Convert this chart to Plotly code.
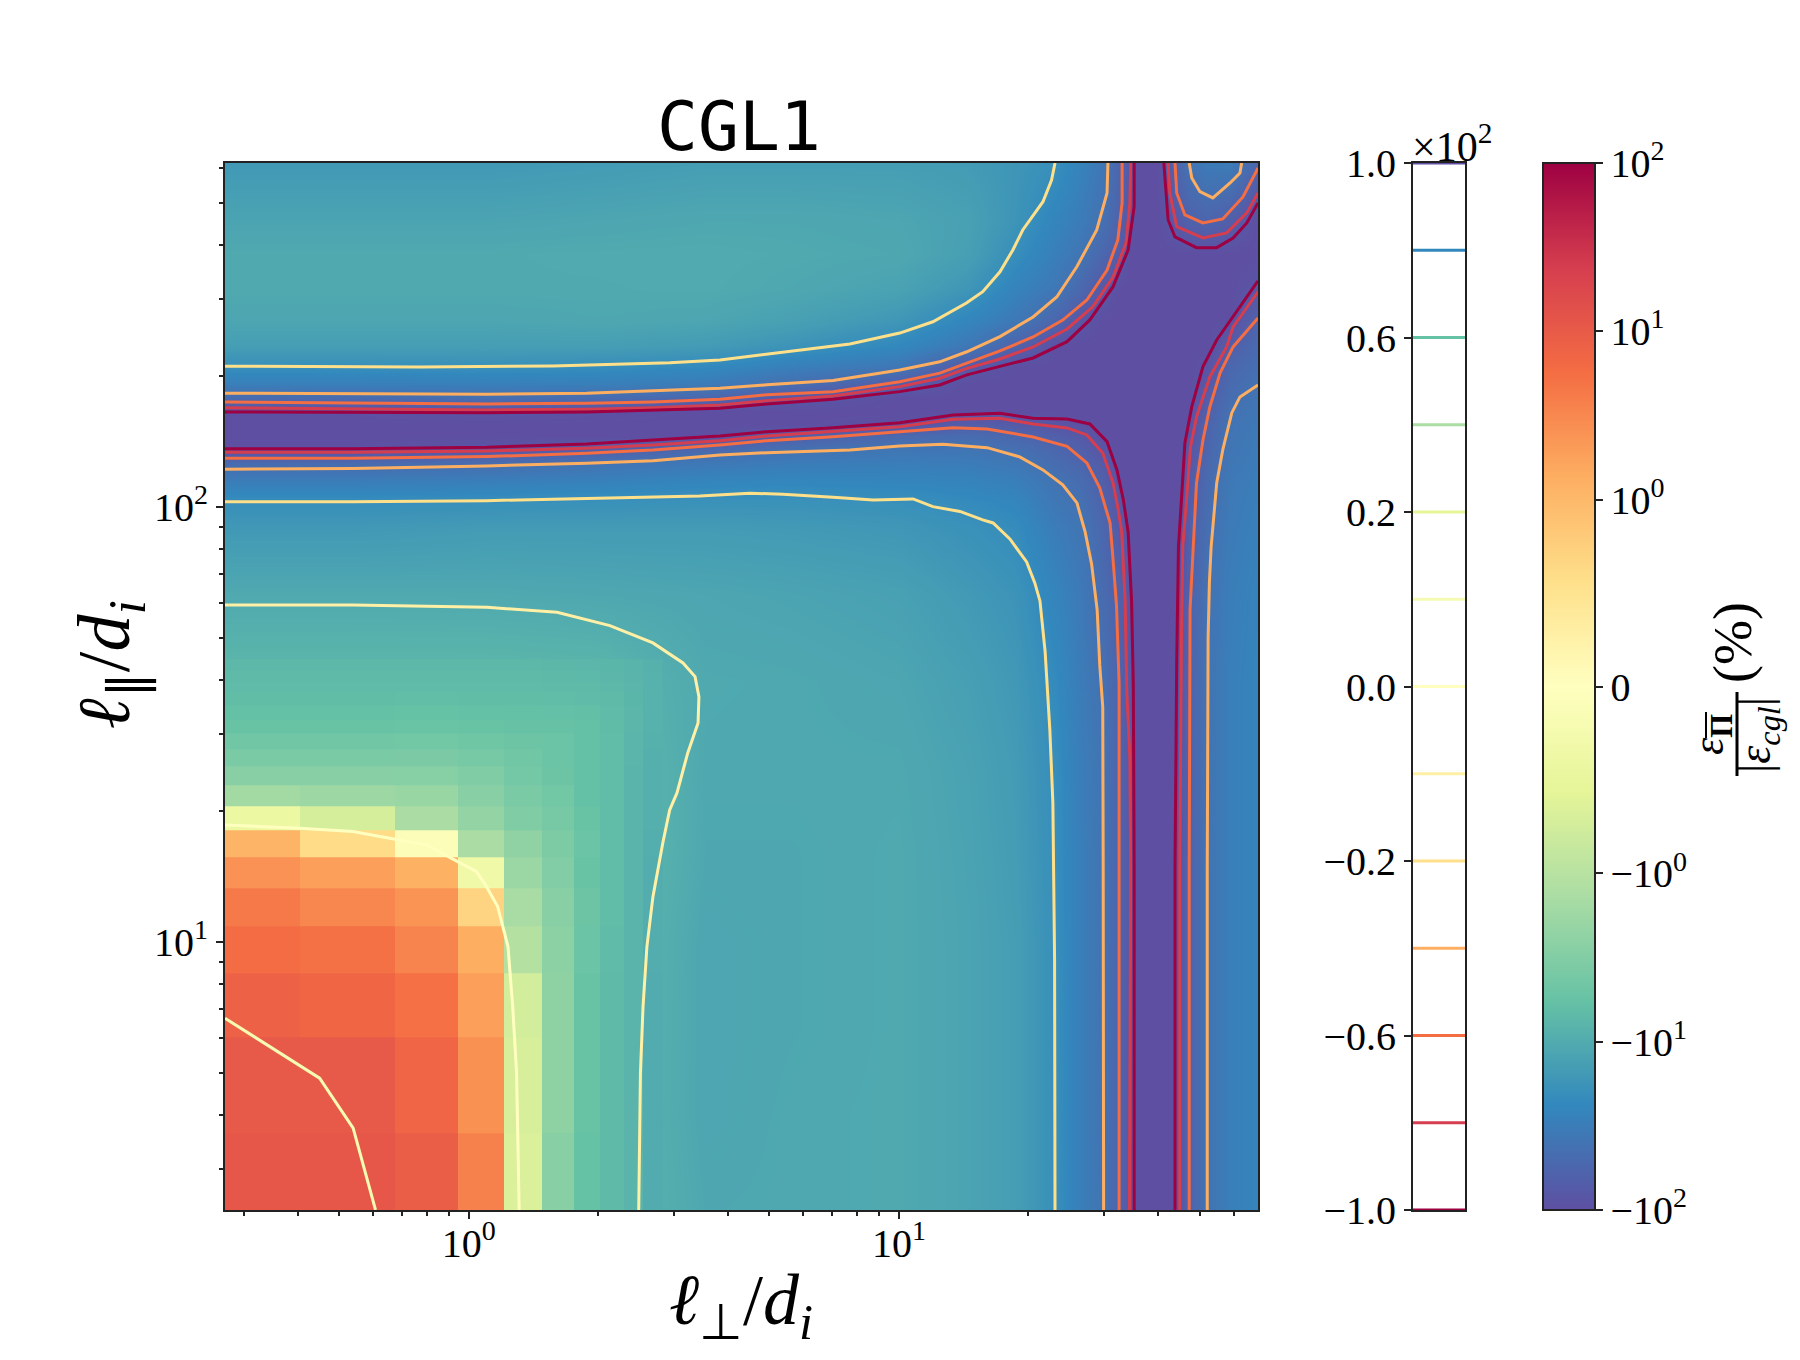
import plotly.graph_objects as go
from math import log10

W, H = 1800, 1360

# heatmap nodes, smooth part of the field (percent)
l_perp_nodes = [0.271, 0.537, 1.1, 2.0, 3.55, 5.62, 10, 14.5, 18.6, 23.1, 26.3, 29.9, 32.5, 34.4, 35.2, 39.8, 43.9, 45, 47.3, 52.1, 58.9, 68.4]
l_par_nodes = [2.41, 3.98, 6.31, 10, 15.8, 25.1, 39.8, 63.1, 89.1, 102, 115, 126, 135, 145, 155, 166, 178, 191, 209, 234, 269, 316, 380, 457, 617]
field_smooth = [
    [11, 11, 2.6, -7, -11, -10.8, -10.6, -12, -14, -20, -30, -40, -60, -80, -100, -100, -100, -80, -60, -40, -30, -26],
    [10.5, 10.5, 2.6, -7, -11.5, -10.8, -10.6, -12, -14, -20, -30, -40, -60, -80, -100, -100, -100, -80, -60, -40, -30, -26],
    [8, 7, 1.5, -6.8, -11.5, -11, -10.6, -12, -14, -20, -30, -40, -60, -80, -100, -100, -100, -80, -60, -40, -30, -26],
    [4, 4, 0.5, -6.6, -11.5, -11, -10.6, -12, -14, -20, -30, -40, -60, -80, -100, -100, -100, -80, -60, -40, -30, -26],
    [0, -0.3, -1.5, -6.2, -11, -11, -10.6, -12.2, -14.5, -20.5, -30, -40, -60, -80, -100, -100, -100, -80, -60, -40, -30, -26],
    [-4.5, -4.5, -4, -6.3, -10.8, -10.8, -10.8, -12.5, -15, -21, -31, -40, -60, -80, -100, -100, -100, -82, -60, -40, -30, -26],
    [-7.2, -7.2, -7.2, -7.5, -10.6, -10.8, -11.5, -13.5, -16, -22.5, -32, -43, -60, -85, -100, -100, -100, -87, -60, -40, -30, -26],
    [-10.5, -10.5, -10.6, -11, -11.5, -12, -13, -15.5, -18, -26, -34, -49, -63, -95, -100, -100, -100, -93, -62, -41, -31, -27],
    [-16, -16, -15, -15, -15, -15.5, -16.5, -19, -21.5, -32, -38, -55, -77, -100, -100, -100, -100, -99, -68, -45, -33, -29],
    [-20, -20, -19.5, -19, -18.5, -18.5, -19.5, -22, -25, -36, -42, -60, -86, -100, -100, -100, -100, -100, -72, -48, -34, -30],
    [-32, -32, -31, -29, -26, -25, -26, -27, -30, -40, -48, -67, -100, -100, -100, -100, -100, -100, -76, -50, -35, -31],
    [-50, -50, -47, -40, -35, -32, -31, -32, -36, -48, -56, -76, -100, -100, -100, -100, -100, -100, -80, -53, -37, -32],
    [-95, -95, -85, -68, -52, -42, -37, -38, -43, -54, -65, -85, -100, -100, -100, -100, -100, -100, -85, -56, -38, -33],
    [-100, -100, -100, -100, -100, -68, -52, -48, -55, -67, -76, -100, -100, -100, -100, -100, -100, -100, -92, -58, -39, -34],
    [-100, -100, -100, -100, -100, -100, -95, -70, -76, -85, -95, -100, -100, -100, -100, -100, -100, -100, -98, -60, -40, -35],
    [-95, -95, -85, -95, -100, -100, -100, -100, -100, -100, -100, -100, -100, -100, -100, -100, -100, -100, -100, -65, -42, -37],
    [-50, -50, -45, -48, -55, -80, -100, -100, -100, -100, -100, -100, -100, -100, -100, -100, -100, -100, -100, -70, -46, -38.5],
    [-30, -30, -30, -30, -33, -45, -70, -100, -100, -100, -100, -100, -100, -100, -100, -100, -100, -100, -100, -78, -50, -40],
    [-20.5, -20.5, -20, -21, -23, -30, -37, -78, -100, -100, -100, -100, -100, -100, -100, -100, -100, -100, -100, -90, -55, -44],
    [-14, -14, -14, -14, -15, -18, -24, -36, -60, -100, -100, -100, -100, -100, -100, -100, -100, -100, -100, -100, -68, -50],
    [-11.5, -11.5, -11.5, -11, -11.5, -13, -16.5, -25, -35, -55, -83, -100, -100, -100, -100, -100, -100, -100, -100, -100, -100, -59],
    [-10.5, -10.5, -10.5, -10.5, -10.3, -11, -12.5, -17, -27, -36, -53, -80, -100, -100, -100, -100, -100, -100, -100, -100, -100, -85],
    [-10.5, -10.5, -10.5, -10.3, -10.2, -10.5, -11, -13.5, -20.5, -30, -38, -55, -72, -100, -100, -100, -100, -100, -100, -100, -100, -100],
    [-12, -12, -12, -11.5, -11, -11, -11.5, -13, -17.5, -26, -32, -43, -60, -90, -100, -100, -78, -72, -62, -57, -68, -100],
    [-16, -16, -16, -15, -14, -14, -14, -15, -17, -20, -27, -37, -57, -78, -100, -100, -60, -50, -40, -33, -32, -57],
]

# coarse grid cells visible in the lower left corner
l_perp_cells = [0.271, 0.404, 0.673, 0.943, 1.21, 1.48, 1.755, 2.02, 2.29, 2.54, 2.83]
l_par_cells = [2.41, 3.62, 6.03, 8.44, 10.85, 13.26, 15.67, 18.08, 20.49, 22.9, 25.31, 27.72, 30.13, 32.54, 34.95, 37.36, 39.77, 42.18, 44.59]
field_cells = [
    [11, 11, 9, 3.7, -0.67, -2.8, -5.7, -7, -8, -10],
    [10.5, 10.5, 7.2, 2.6, -0.7, -2.5, -5.5, -7, -8, -10],
    [8, 7, 5.2, 1.9, -0.75, -2.5, -5.5, -7, -8, -10],
    [5.8, 5.3, 3.4, 1.35, -1.1, -2.6, -5.2, -6.8, -8, -9.5],
    [4.3, 3.2, 2.4, 0.7, -1.45, -2.8, -5, -6.5, -8, -9.5],
    [2.5, 1.9, 1.25, -0.35, -1.9, -3.2, -5.5, -6.5, -8, -9.5],
    [1.15, 0.6, -0.1, -1.4, -2.4, -3.6, -5.2, -6.5, -8, -9.3],
    [-0.4, -0.72, -1.4, -2.2, -3.4, -4, -5.5, -6.5, -8, -9],
    [-1.6, -1.8, -2, -2.8, -3.8, -4.4, -5.8, -6.5, -8, -9],
    [-2.8, -2.8, -2.9, -3.3, -4.2, -5, -5.8, -6.5, -8, -9],
    [-3.8, -3.8, -3.7, -4, -4.6, -5.2, -5.8, -6.5, -7.8, -9],
    [-4.5, -4.5, -4.4, -4.7, -5, -5.2, -5.8, -6.5, -7.8, -8.8],
    [-5.5, -5.5, -5.4, -5.5, -5.6, -5.6, -5.9, -6.6, -7.6, -8.6],
    [-5.8, -5.8, -5.7, -5.8, -5.9, -6, -6.2, -6.8, -7.6, -8.6],
    [-6.4, -6.4, -6.3, -6.4, -6.4, -6.5, -6.7, -7, -7.7, -8.6],
    [-6.8, -6.8, -6.7, -6.8, -6.8, -6.9, -7, -7.3, -7.8, -8.6],
    [-7, -7, -7, -7, -7, -7.1, -7.2, -7.5, -8, -8.7],
    [-7.3, -7.3, -7.3, -7.3, -7.3, -7.4, -7.5, -7.7, -8.1, -8.8],
]

m20_top_x = [-0.567, -0.114, 0.195, 0.351, 0.467, 0.584, 0.770, 0.886, 1.002, 1.079, 1.157, 1.195, 1.235, 1.265, 1.288, 1.335, 1.355, 1.363]
m20_top_y = [2.3228, 2.321, 2.3235, 2.327, 2.331, 2.337, 2.360, 2.374, 2.399, 2.425, 2.468, 2.494, 2.540, 2.590, 2.636, 2.701, 2.751, 2.790]
m40_top_x = [-0.567, 0.042, 0.274, 0.428, 0.584, 0.693, 0.847, 1.002, 1.095, 1.158, 1.235, 1.312, 1.367, 1.414, 1.460, 1.484, 1.486]
m40_top_y = [2.2607, 2.2584, 2.2607, 2.266, 2.272, 2.280, 2.290, 2.314, 2.333, 2.356, 2.391, 2.436, 2.482, 2.552, 2.636, 2.721, 2.790]
m60_top_x = [-0.567, 0.042, 0.274, 0.428, 0.584, 0.693, 0.847, 1.002, 1.095, 1.158, 1.235, 1.312, 1.381, 1.437, 1.484, 1.509, 1.519, 1.519]
m60_top_y = [2.2407, 2.236, 2.2377, 2.2407, 2.247, 2.257, 2.264, 2.287, 2.307, 2.330, 2.358, 2.390, 2.429, 2.475, 2.544, 2.613, 2.698, 2.790]
m80_top_x = [-0.567, 0.042, 0.274, 0.428, 0.584, 0.693, 0.847, 1.002, 1.095, 1.158, 1.235, 1.312, 1.391, 1.451, 1.498, 1.528, 1.537, 1.539]
m80_top_y = [2.2276, 2.2223, 2.224, 2.2276, 2.2338, 2.2437, 2.2545, 2.2759, 2.2952, 2.318, 2.3395, 2.367, 2.4085, 2.4598, 2.528, 2.606, 2.698, 2.790]
m100_top_x = [-0.567, 0.042, 0.274, 0.428, 0.584, 0.693, 0.847, 1.002, 1.095, 1.158, 1.235, 1.312, 1.391, 1.444, 1.498, 1.533, 1.547, 1.547]
m100_top_y = [2.2177, 2.216, 2.2177, 2.2216, 2.2262, 2.2361, 2.2469, 2.2644, 2.2798, 2.3028, 2.3218, 2.3418, 2.3793, 2.4292, 2.5057, 2.5901, 2.6897, 2.790]

m100_mid_x = [-0.567, -0.27, 0.042, 0.274, 0.428, 0.584, 0.693, 0.847, 1.002, 1.126, 1.235, 1.312, 1.391, 1.444, 1.484, 1.507, 1.522, 1.533, 1.541, 1.545, 1.547, 1.547]
m100_mid_y = [2.1333, 2.1333, 2.1366, 2.1441, 2.1533, 2.1625, 2.1724, 2.1816, 2.1931, 2.2108, 2.2147, 2.2032, 2.2016, 2.1901, 2.1494, 2.0844, 2.0154, 1.9418, 1.7832, 1.5924, 1.1694, 0.383]
m80_mid_x = [-0.567, -0.27, 0.042, 0.274, 0.428, 0.584, 0.693, 0.847, 1.002, 1.126, 1.235, 1.312, 1.391, 1.437, 1.474, 1.498, 1.510, 1.518, 1.526, 1.530, 1.537, 1.539, 1.536]
m80_mid_y = [2.1251, 2.1251, 2.128, 2.1343, 2.1418, 2.1517, 2.1625, 2.1724, 2.1839, 2.2009, 2.2032, 2.1901, 2.1809, 2.1648, 2.1234, 2.0545, 1.9924, 1.9418, 1.7832, 1.5717, 1.4246, 1.1694, 0.383]
m60_mid_x = [-0.567, -0.27, 0.042, 0.274, 0.428, 0.584, 0.693, 0.847, 1.002, 1.126, 1.205, 1.312, 1.391, 1.437, 1.467, 1.491, 1.498, 1.506, 1.512, 1.512, 1.512]
m60_mid_y = [2.1113, 2.1113, 2.115, 2.1228, 2.1303, 2.1418, 2.1517, 2.1609, 2.1724, 2.1816, 2.1786, 2.1602, 2.1388, 2.1005, 2.0430, 1.9625, 1.8775, 1.7717, 1.5924, 1.1694, 0.383]
m40_mid_x = [-0.567, -0.27, 0.042, 0.274, 0.428, 0.584, 0.693, 0.886, 1.002, 1.102, 1.205, 1.281, 1.335, 1.381, 1.414, 1.433, 1.448, 1.461, 1.467, 1.474, 1.475, 1.476]
m40_mid_y = [2.086, 2.0874, 2.0936, 2.0998, 2.1057, 2.1189, 2.1241, 2.1303, 2.1395, 2.1434, 2.1356, 2.1143, 2.0844, 2.0499, 2.0085, 1.9418, 1.8683, 1.7625, 1.6361, 1.5395, 1.1694, 0.383]
m20_mid_x = [-0.567, -0.27, 0.042, 0.274, 0.428, 0.537, 0.653, 0.730, 0.847, 0.940, 1.033, 1.079, 1.142, 1.195, 1.219, 1.258, 1.297, 1.316, 1.328, 1.340, 1.351, 1.358, 1.362, 1.363]
m20_mid_y = [2.0115, 2.0115, 2.0138, 2.0193, 2.023, 2.0246, 2.0308, 2.0285, 2.0216, 2.0154, 2.0177, 2.0000, 1.9890, 1.9694, 1.9625, 1.9257, 1.8729, 1.8246, 1.7832, 1.6667, 1.4867, 1.3189, 0.9579, 0.383]

m100_right_x = [1.642, 1.642, 1.646, 1.650, 1.657, 1.665, 1.681, 1.707, 1.739, 1.793, 1.835]
m100_right_y = [0.383, 1.1694, 1.6453, 1.9074, 2.0154, 2.1464, 2.2299, 2.3218, 2.3832, 2.4598, 2.5189]
m80_right_x = [1.653, 1.653, 1.657, 1.660, 1.667, 1.678, 1.692, 1.723, 1.762, 1.777, 1.835]
m80_right_y = [0.383, 1.1694, 1.6982, 1.9074, 1.9924, 2.1372, 2.2062, 2.2982, 2.3672, 2.4131, 2.4936]
m60_right_x = [1.675, 1.675, 1.677, 1.684, 1.692, 1.707, 1.723, 1.747, 1.777, 1.835]
m60_right_y = [0.383, 1.1694, 1.7625, 1.9074, 2.0545, 2.1533, 2.2292, 2.3074, 2.3672, 2.4338]
m40_right_x = [1.717, 1.717, 1.719, 1.722, 1.726, 1.739, 1.753, 1.774, 1.793, 1.835]
m40_right_y = [0.383, 1.1694, 1.6982, 1.8246, 1.9074, 2.0545, 2.1303, 2.2154, 2.2522, 2.2798]

m100_corner_x = [1.616, 1.620, 1.626, 1.642, 1.692, 1.739, 1.777, 1.809, 1.835]
m100_corner_y = [2.790, 2.7279, 2.6590, 2.6200, 2.5954, 2.5954, 2.6177, 2.6522, 2.6982]
m80_corner_x = [1.626, 1.630, 1.646, 1.707, 1.762, 1.809, 1.835]
m80_corner_y = [2.790, 2.7211, 2.6437, 2.6177, 2.6292, 2.6752, 2.7211]
m60_corner_x = [1.642, 1.646, 1.665, 1.707, 1.753, 1.800, 1.835]
m60_corner_y = [2.790, 2.7211, 2.6706, 2.6522, 2.6614, 2.7120, 2.7788]
m40_corner_x = [1.675, 1.681, 1.700, 1.730, 1.770, 1.793, 1.797]
m40_corner_y = [2.790, 2.7556, 2.7241, 2.7097, 2.7441, 2.7671, 2.790]

m10_x = [-0.567, -0.27, 0.042, 0.205, 0.328, 0.428, 0.498, 0.526, 0.535, 0.533, 0.509, 0.484, 0.467, 0.451, 0.428, 0.414, 0.405, 0.399, 0.395]
m10_y = [1.7740, 1.7740, 1.7687, 1.7572, 1.7264, 1.6867, 1.6407, 1.6092, 1.5632, 1.5027, 1.4338, 1.3418, 1.3028, 1.2269, 1.1028, 0.9878, 0.8498, 0.6981, 0.383]
zero_x = [-0.567, -0.393, -0.270, -0.172, -0.098, -0.026, 0.018, 0.041, 0.067, 0.091, 0.102, 0.111, 0.117]
zero_y = [1.2683, 1.2607, 1.2529, 1.2354, 1.2223, 1.1839, 1.1609, 1.1264, 1.0805, 0.9885, 0.8506, 0.6982, 0.383]
p10_x = [-0.567, -0.347, -0.269, -0.217]
p10_y = [0.8239, 0.6860, 0.5710, 0.383]

contour_levels = [-100, -80, -60, -40, -20, -10, 0, 10, 20, 40, 60, 80, 100]
contour_colors = ["#9e0142", "#d53e4f", "#f46d43", "#fdae61", "#fee08b", "#fff0a6", "#ffffbf", "#f5fbb2", "#e6f598", "#abdda4", "#66c2a5", "#3288bd", "#5e4fa2"]
contour_ticks = ["\u22121.0", "\u22120.6", "\u22120.2", "0.0", "0.2", "0.6", "1.0"]

spectral_r = ["#5e4fa2", "#3288bd", "#66c2a5", "#abdda4", "#e6f598", "#ffffbf", "#fee08b", "#fdae61", "#f46d43", "#d53e4f", "#9e0142"]
cbar_ticks = [-100, -10, -1, 0, 1, 10, 100]
cbar_labels = ["\u221210<sup>2</sup>", "\u221210<sup>1</sup>", "\u221210<sup>0</sup>", "0", "10<sup>0</sup>", "10<sup>1</sup>", "10<sup>2</sup>"]


def symlog(v):
    # same scale as SymLogNorm(linthresh=1, linscale=1)
    scale = 1 / (1 - 1 / 10)
    if abs(v) <= 1:
        return v * scale
    sign = 1 if v > 0 else -1
    return sign * (scale + log10(abs(v)))


def to_z(rows):
    return [[symlog(v) for v in row] for row in rows]


def px(v):
    return v / W


def py(v):
    return 1 - v / H


colorscale = [[i / 10, c] for i, c in enumerate(spectral_r)]
zlim = symlog(100)
ink = "#222222"
serif = "Liberation Serif"

fig = go.Figure()

fig.add_trace(
    go.Heatmap(
        x=l_perp_nodes,
        y=l_par_nodes,
        z=to_z(field_smooth),
        zsmooth="best",
        colorscale=colorscale,
        zmin=-zlim,
        zmax=zlim,
        colorbar=dict(
            x=px(1543),
            xanchor="left",
            xpad=0,
            ypad=0,
            y=py(163),
            yanchor="top",
            len=(1210 - 163) / H,
            lenmode="fraction",
            thickness=52,
            thicknessmode="pixels",
            outlinewidth=2,
            outlinecolor=ink,
            tickmode="array",
            tickvals=[symlog(v) for v in cbar_ticks],
            ticktext=cbar_labels,
            ticks="outside",
            ticklen=7,
            tickwidth=2,
            tickcolor=ink,
            tickfont=dict(family=serif, size=40, color="black"),
        ),
    )
)
fig.add_trace(
    go.Heatmap(
        x=l_perp_cells,
        y=l_par_cells,
        z=to_z(field_cells),
        colorscale=colorscale,
        zmin=-zlim,
        zmax=zlim,
        showscale=False,
    )
)

contours = [
    (m20_top_x, m20_top_y, -20), (m40_top_x, m40_top_y, -40), (m60_top_x, m60_top_y, -60),
    (m80_top_x, m80_top_y, -80), (m100_top_x, m100_top_y, -100),
    (m20_mid_x, m20_mid_y, -20), (m40_mid_x, m40_mid_y, -40), (m60_mid_x, m60_mid_y, -60),
    (m80_mid_x, m80_mid_y, -80), (m100_mid_x, m100_mid_y, -100),
    (m40_right_x, m40_right_y, -40), (m60_right_x, m60_right_y, -60),
    (m80_right_x, m80_right_y, -80), (m100_right_x, m100_right_y, -100),
    (m40_corner_x, m40_corner_y, -40), (m60_corner_x, m60_corner_y, -60),
    (m80_corner_x, m80_corner_y, -80), (m100_corner_x, m100_corner_y, -100),
    (m10_x, m10_y, -10), (zero_x, zero_y, 0), (p10_x, p10_y, 10),
]
for lx, ly, level in contours:
    fig.add_trace(
        go.Scatter(
            x=[10**v for v in lx],
            y=[10**v for v in ly],
            mode="lines",
            line=dict(color=contour_colors[contour_levels.index(level)], width=3),
            showlegend=False,
            hoverinfo="skip",
        )
    )

# colorbar of the contour levels, evenly spaced
for i, c in enumerate(contour_colors):
    fig.add_trace(
        go.Scatter(
            x=[0, 1],
            y=[i, i],
            xaxis="x2",
            yaxis="y2",
            mode="lines",
            line=dict(color=c, width=3),
            showlegend=False,
            hoverinfo="skip",
        )
    )

tick_font = dict(family=serif, size=40, color="black")
frame = dict(showline=True, mirror=True, linecolor=ink, linewidth=2, showgrid=False, zeroline=False)

fig.update_layout(
    width=W,
    height=H,
    autosize=False,
    margin=dict(l=0, r=0, t=0, b=0, autoexpand=False),
    paper_bgcolor="white",
    plot_bgcolor="white",
    showlegend=False,
    title=dict(
        text="CGL1",
        x=px(739),
        xanchor="center",
        y=py(150),
        yanchor="bottom",
        font=dict(family="DejaVu Sans Mono", size=68, color="black"),
    ),
    xaxis=dict(
        frame,
        type="log",
        domain=[px(225), px(1258)],
        range=[-0.567, 1.835],
        tickmode="array",
        tickvals=[1, 10],
        ticktext=["10<sup>0</sup>", "10<sup>1</sup>"],
        ticks="outside",
        ticklen=7,
        tickwidth=2,
        tickcolor=ink,
        tickfont=tick_font,
        ticklabelstandoff=-10,
        minor=dict(
            tickmode="array",
            tickvals=[0.3, 0.4, 0.5, 0.6, 0.7, 0.8, 0.9, 2, 3, 4, 5, 6, 7, 8, 9, 20, 30, 40, 50, 60],
            ticks="outside",
            ticklen=4,
            tickwidth=1.5,
            tickcolor=ink,
        ),
    ),
    yaxis=dict(
        frame,
        type="log",
        domain=[py(1210), py(163)],
        range=[0.383, 2.79],
        tickmode="array",
        tickvals=[10, 100],
        ticktext=["10<sup>1</sup>", "10<sup>2</sup>"],
        ticks="outside",
        ticklen=7,
        tickwidth=2,
        tickcolor=ink,
        tickfont=tick_font,
        minor=dict(
            tickmode="array",
            tickvals=[3, 4, 5, 6, 7, 8, 9, 20, 30, 40, 50, 60, 70, 80, 90, 200, 300, 400, 500, 600],
            ticks="outside",
            ticklen=4,
            tickwidth=1.5,
            tickcolor=ink,
        ),
    ),
    xaxis2=dict(
        frame,
        domain=[px(1413), px(1465)],
        range=[0, 1],
        anchor="y2",
        showticklabels=False,
        ticks="",
    ),
    yaxis2=dict(
        frame,
        domain=[py(1210), py(163)],
        range=[0, 12],
        anchor="x2",
        tickmode="array",
        tickvals=[0, 2, 4, 6, 8, 10, 12],
        ticktext=contour_ticks,
        ticks="outside",
        ticklen=7,
        tickwidth=2,
        tickcolor=ink,
        tickfont=tick_font,
    ),
)


def label(text, x, y, size, angle=0, xanchor="center", yanchor="middle"):
    fig.add_annotation(
        text=text,
        xref="paper",
        yref="paper",
        x=px(x),
        y=py(y),
        xanchor=xanchor,
        yanchor=yanchor,
        textangle=angle,
        showarrow=False,
        font=dict(family=serif, size=size, color="black"),
    )


label("<i>\u2113</i><sub>\u22a5</sub>/<i>d<sub>i</sub></i>", 741, 1305, 72)
label("<i>\u2113</i><sub>\u2225</sub>/<i>d<sub>i</sub></i>", 110, 665, 74, angle=-90)
label("\u00d710<sup>2</sup>", 1410, 172, 42, xanchor="left", yanchor="bottom")
# colorbar label, a fraction followed by (%)
label("<i>\u03b5</i><sub><b>\u03a0</b></sub>", 1711, 735, 44, angle=-90)
label("|<i>\u03b5<sub>cgl</sub></i>|", 1758, 735, 46, angle=-90)
label("(%)", 1733, 643, 54, angle=-90)
for x_line, y_start, y_end, width in [(1737, 692, 776, 3), (1706, 712, 738, 2)]:
    fig.add_shape(
        type="line",
        xref="paper",
        yref="paper",
        x0=px(x_line),
        x1=px(x_line),
        y0=py(y_start),
        y1=py(y_end),
        line=dict(color="black", width=width),
    )

fig.write_html(
    "out.html",
    config={"displayModeBar": False},
    post_script="document.body.style.margin = '0';",
)
